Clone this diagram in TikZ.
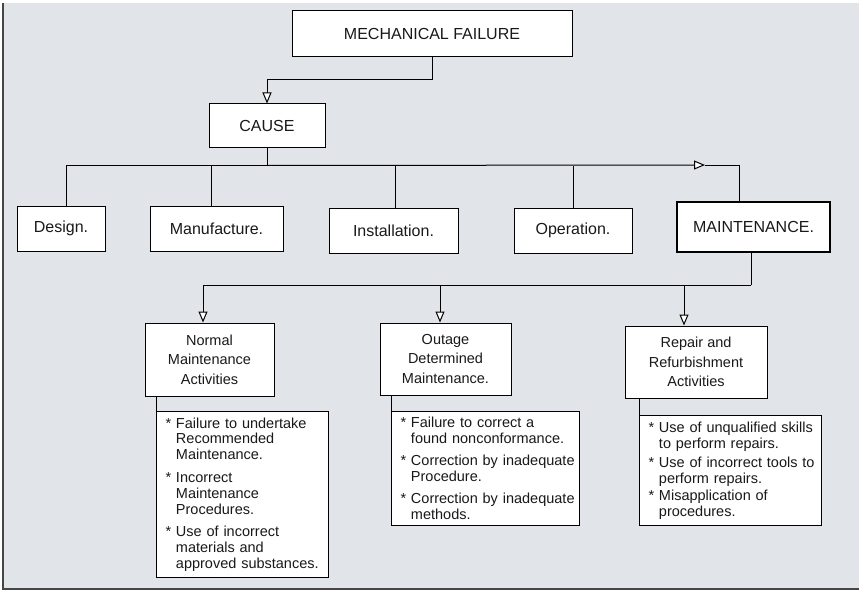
\documentclass[tikz,border=0pt]{standalone}
\usepackage{fontspec}
\setmainfont{Liberation Sans}
\usepackage{xcolor}
\definecolor{panel-gray}{RGB}{225,228,233}
\definecolor{frame-gray}{RGB}{70,70,70}
\definecolor{ink}{RGB}{25,25,25}
\usetikzlibrary{arrows.meta,positioning}

\tikzset{
    box/.style={draw=black, line width=1pt, fill=white, inner sep=0pt,
        align=center, text=ink, font=\fontsize{16}{19}\selectfont},
    subbox/.style={box, font=\fontsize{14.5}{19.5}\selectfont},
    listbox/.style={draw=black, line width=1pt, fill=white, anchor=north west,
        align=left, inner xsep=4pt, inner ysep=5pt, text=ink,
        font=\fontsize{14.5}{15.8}\selectfont},
    link/.style={line width=1pt},
    openarrow/.style={link, -{Triangle[length=11pt,width=9pt,fill=white]}}
}
\newcommand{\bul}{\hspace*{5pt}*\ }
\newcommand{\hang}{\hspace*{5pt}\phantom{*\ }}

\begin{document}
\begin{tikzpicture}[x=1pt, y=-1pt]
\useasboundingbox (0,0) rectangle (859,591);

% Panel
\fill[panel-gray] (3,3) rectangle (859,589);
\draw[frame-gray, line width=1.2pt] (3,3) -- (3,589) -- (859,589);

% Top of the tree
\node[box, minimum width=280pt, minimum height=46pt] (failure) at (432,34) {MECHANICAL FAILURE};
\node[box, minimum width=116pt, minimum height=43pt] (cause) at (267,125.5) {CAUSE};

% Row of causes
\node[box, minimum width=88pt, minimum height=45pt] (design) at (61,228.5) {Design.};
\node[box, minimum width=133pt, minimum height=45pt] (manufacture) at (216.5,228.5) {Manufacture.};
\node[box, minimum width=129pt, minimum height=45pt] (installation) at (393.5,230.5) {Installation.};
\node[box, minimum width=118pt, minimum height=45pt] (operation) at (573,230.5) {Operation.};
\node[box, line width=2.6pt, minimum width=153pt, minimum height=50pt] (maintenance) at (753.5,227) {MAINTENANCE.};

% Maintenance branches
\node[subbox, minimum width=129pt, minimum height=73pt] (normal) at (209.5,359.5) {Normal\\Maintenance\\Activities};
\node[subbox, minimum width=131pt, minimum height=72pt] (outage) at (445.5,359) {Outage\\Determined\\Maintenance.};
\node[subbox, minimum width=142pt, minimum height=72pt] (repair) at (696,362) {Repair and\\Refurbishment\\Activities};

% Lists under each branch
\node[listbox, text width=164pt, minimum height=166pt] (normallist) at (156,411) {%
\bul Failure to undertake\\
\hang Recommended\\
\hang Maintenance.\\[7pt]
\bul Incorrect\\
\hang Maintenance\\
\hang Procedures.\\[7pt]
\bul Use of incorrect\\
\hang materials and\\
\hang approved substances.%
};
\node[listbox, text width=180pt, minimum height=114pt] (outagelist) at (391,411) {%
\bul Failure to correct a\\
\hang found nonconformance.\\[6.5pt]
\bul Correction by inadequate\\
\hang Procedure.\\[6.5pt]
\bul Correction by inadequate\\
\hang methods.%
};
\node[listbox, text width=174pt, minimum height=110pt] (repairlist) at (639,415) {%
\bul Use of unqualified skills\\
\hang to perform repairs.\\[4pt]
\bul Use of incorrect tools to\\
\hang perform repairs.\\[1pt]
\bul Misapplication of\\
\hang procedures.%
};

% Connectors
\draw[openarrow] (failure.south) -- ++(0,22) -| (cause.north);
\draw[link] (cause.south) -- ++(0,18) coordinate (bus);
\coordinate (tip) at (705,165);
\draw[link] ([xshift=5pt]design.north) |- (bus);
\draw[openarrow] (bus) -- (tip);
\draw[link] (tip) -| ([xshift=-14.5pt]maintenance.north);
\draw[link] ([xshift=-5.5pt]manufacture.north) -- ([xshift=-5.5pt]manufacture.north |- bus);
\draw[link] ([xshift=1.5pt]installation.north) -- ([xshift=1.5pt]installation.north |- bus);
\draw[link] (operation.north) -- (operation.north |- bus);

\draw[link] ([xshift=-2.5pt]maintenance.south) -- ++(0,32) coordinate (subbus);
\draw[openarrow] (subbus) -| ([xshift=-6.5pt]normal.north);
\draw[openarrow] ([xshift=-5.5pt]outage.north |- subbus) -- ([xshift=-5.5pt]outage.north);
\draw[openarrow] ([xshift=-12pt]repair.north |- subbus) -- ([xshift=-12pt]repair.north);

\draw[link] (normallist.north west) -- (normallist.north west |- normal.south);
\draw[link] (outagelist.north west) -- (outagelist.north west |- outage.south);
\draw[link] (repairlist.north west) -- (repairlist.north west |- repair.south);

\end{tikzpicture}
\end{document}
